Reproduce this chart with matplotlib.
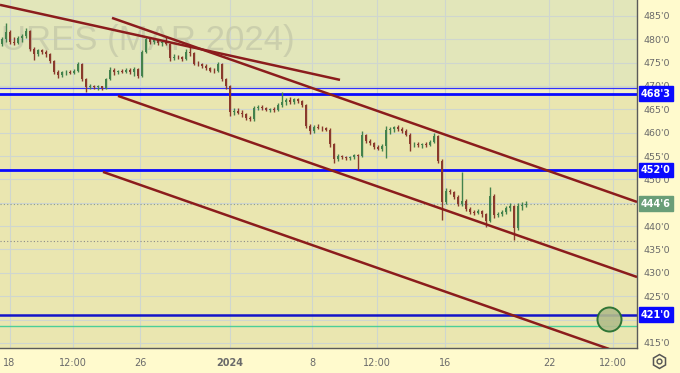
import matplotlib
matplotlib.use("Agg")
import matplotlib.pyplot as plt
from matplotlib.ticker import FixedLocator, FuncFormatter
from matplotlib.transforms import blended_transform_factory
from matplotlib.lines import Line2D

# ---------------- data ----------------
opens = [479.0,480.0,481.5,479.5,479.3,480.2,480.8,481.8,478.0,476.8,477.6,477.2,476.8,475.3,473.0,472.4,472.9,473.0,472.8,473.3,
         474.6,471.5,469.8,470.0,469.7,469.9,469.5,471.5,473.4,472.9,473.2,473.0,473.5,472.9,473.6,472.2,477.3,480.0,479.4,479.8,
         479.2,479.5,479.0,476.0,476.3,476.1,475.8,477.3,477.0,474.8,474.6,474.3,473.8,473.3,473.1,474.8,471.4,470.0,464.4,464.7,
         464.3,463.9,463.2,462.9,465.3,465.6,465.2,464.9,465.0,464.8,465.9,466.6,467.0,466.5,467.1,466.8,466.0,461.5,460.3,461.3,
         461.1,460.9,460.6,457.6,454.3,455.0,454.7,454.6,454.8,455.2,455.0,459.4,458.2,457.7,457.0,456.6,457.2,460.5,460.8,461.2,
         460.7,460.4,459.6,457.5,457.6,457.3,457.5,457.4,458.0,459.3,454.0,445.2,447.6,447.2,446.2,444.8,445.4,443.6,443.0,442.9,
         443.2,442.5,441.0,446.5,442.3,442.6,443.0,443.9,444.4,439.5,444.2,444.5]
highs = [480.5,483.5,482.0,480.5,480.8,481.2,482.3,482.0,478.3,478.0,478.0,477.6,477.0,475.6,473.5,473.2,473.4,473.5,473.6,475.2,
         475.0,471.8,470.4,470.3,470.2,470.0,471.8,474.0,473.8,473.5,473.6,473.8,473.9,474.0,473.9,477.8,480.6,480.5,480.2,480.0,
         479.9,480.6,479.2,476.8,476.7,476.5,478.0,478.4,477.3,475.3,475.0,474.7,474.1,473.8,475.2,475.0,471.7,470.2,465.2,465.3,
         464.8,464.3,463.6,465.8,466.0,465.9,465.6,465.3,465.4,466.3,468.6,467.5,467.6,467.4,467.5,467.0,466.2,461.8,461.6,461.8,
         461.5,461.3,460.9,457.8,455.4,455.3,455.0,455.0,455.5,455.4,460.3,459.8,458.6,458.0,457.4,457.6,461.4,461.2,461.5,461.6,
         461.2,460.8,459.9,458.0,458.0,457.8,457.9,458.4,459.9,459.6,454.4,448.2,448.0,447.6,446.6,451.5,445.8,444.0,443.5,443.6,
         443.5,442.8,448.4,446.8,443.0,443.4,444.3,445.0,444.6,445.0,445.2,445.3]
lows = [478.5,479.5,479.0,478.8,479.0,479.4,480.3,477.5,475.5,476.5,476.8,476.3,475.0,472.5,471.6,472.0,472.4,472.5,472.6,473.0,
        471.0,468.7,469.3,469.4,469.2,469.1,469.3,471.2,472.4,472.5,472.7,472.8,472.6,472.2,471.6,472.0,477.0,479.0,478.9,478.8,
        478.6,478.8,475.4,475.5,475.8,475.4,475.6,476.5,474.4,474.2,473.9,473.5,473.0,472.8,472.9,471.0,469.4,463.6,463.8,464.0,
        463.4,462.8,462.4,462.6,464.9,464.9,464.6,464.5,464.5,464.6,465.6,466.0,466.2,466.2,466.4,465.6,461.0,459.8,460.0,460.8,
        460.4,460.3,457.0,453.6,454.0,454.3,454.2,454.2,454.3,452.0,454.8,457.8,457.3,456.5,456.2,456.0,454.6,459.8,460.2,460.3,
        460.0,459.2,456.0,457.0,457.0,456.8,457.0,457.2,457.8,453.5,441.3,444.8,446.8,445.8,444.3,444.2,443.2,442.6,442.4,442.5,
        442.0,439.8,440.8,441.8,441.9,442.2,442.6,443.2,437.0,439.2,443.4,444.0]
closes = [480.0,481.5,479.5,479.3,480.2,480.8,481.8,478.0,476.8,477.6,477.2,476.8,475.3,473.0,472.4,472.9,473.0,472.8,473.3,474.6,
          471.5,469.8,470.0,469.7,469.9,469.5,471.5,473.4,472.9,473.2,473.0,473.5,472.9,473.6,472.2,477.3,480.0,479.4,479.8,479.2,
          479.5,479.0,476.0,476.3,476.1,475.8,477.3,477.0,474.8,474.6,474.3,473.8,473.3,473.1,474.8,471.4,470.0,464.4,464.7,464.3,
          463.9,463.2,462.9,465.3,465.6,465.2,464.9,465.0,464.8,465.9,466.6,467.0,466.5,467.1,466.8,466.0,461.5,460.3,461.3,461.1,
          460.9,460.6,457.6,454.3,455.0,454.7,454.6,454.8,455.2,455.0,459.4,458.2,457.7,457.0,456.6,457.2,460.5,460.8,461.2,460.7,
          460.4,459.6,457.5,457.6,457.3,457.5,457.4,458.0,459.3,454.0,445.2,447.6,447.2,446.2,444.8,445.4,443.6,443.0,442.9,443.2,
          442.5,441.0,446.5,442.3,442.6,443.0,443.9,444.4,439.5,444.2,444.5,444.75]

# trend lines: (bar index, price) pairs
trend_x = [[-0.5, 84.5], [27.5, 158.75], [29.0, 158.75], [25.25, 151.75]]
trend_y = [[487.36, 471.3], [484.57, 445.17], [467.87, 429.1], [451.6, 413.7]]

level_thin = 469.6
levels_blue = [468.375, 452.0]
level_navy = 421.0
level_mint = 418.6
last_price = 444.75
low_mark = 436.75

box_vals = [468.375, 452.0, 444.75, 421.0]
box_text = ["468'3", "452'0", "444'6", "421'0"]
box_cols = ["#0a0aff", "#0a0aff", "#6a9e78", "#0a0aff"]

xtick_pos = [1.875, 17.75, 34.5, 57.0, 77.5, 93.75, 110.75, 136.75, 152.75]
xtick_lab = ["18", "12:00", "26", "2024", "8", "12:00", "16", "22", "12:00"]
ytick_vals = [415, 420, 425, 430, 435, 440, 445, 450, 455, 460, 465, 470, 475, 480, 485]
ytick_hidden = [420, 445]   # covered by the price boxes in the reference

watermark = "URES (MAR 2024)"
circle_x, circle_y = 151.75, 420.1

# ---------------- figure ----------------
W, H = 680, 373
fig = plt.figure(figsize=(W / 100, H / 100), dpi=100, facecolor="#fffacd")
ax = fig.add_axes([0, 25 / H, 637 / W, 348 / H])
ax.set_xlim(-0.5, 158.75)
ax.set_ylim(413.9, 488.4)
ax.set_facecolor("#eae6b0")

# background bands
ax.axhspan(level_thin, 500, color="#e2e6ba", zorder=0, lw=0)
ax.axhspan(levels_blue[0], level_thin, color="#f5f0c8", zorder=0, lw=0)

# grid
for v in ytick_vals:
    ax.axhline(v, color="#cfd6cf", lw=0.8, zorder=0.5)
for p in xtick_pos:
    ax.axvline(p, color="#cfd6cf", lw=0.8, zorder=0.5)

# watermark
ax.text(1 / 637, 0.885, watermark, transform=ax.transAxes,
        ha="left", va="center", fontsize=25, family="Liberation Sans",
        color="#c4c8a8", alpha=0.75, zorder=0.8, clip_on=True)

# candles
up_col, dn_col = "#43824c", "#8a3a2c"
xs = list(range(len(closes)))
cols = [up_col if c >= o else dn_col for o, c in zip(opens, closes)]
ax.vlines(xs, lows, highs, colors=cols, lw=1.0, zorder=3)
bottoms = [min(o, c) for o, c in zip(opens, closes)]
heights = [max(abs(c - o), 0.15) for o, c in zip(opens, closes)]
ax.bar(xs, heights, bottom=bottoms, width=0.7, color=cols, lw=0, zorder=3)

# horizontal levels
ax.axhline(level_thin, color="#3030ff", lw=0.9, zorder=2)
for v in levels_blue:
    ax.axhline(v, color="#0a0aff", lw=2.0, zorder=2)
ax.axhline(level_navy, color="#1414c8", lw=1.8, zorder=2)
ax.axhline(level_mint, color="#4ccf98", lw=1.0, zorder=2)
ax.axhline(last_price, color="#8a9a90", lw=0.8, ls=(0, (1, 2)), zorder=2)
ax.axhline(low_mark, color="#8a8a8a", lw=0.8, ls=(0, (1, 2)), zorder=2)

# trend lines
for tx, ty in zip(trend_x, trend_y):
    ax.plot(tx, ty, color="#8b1c1c", lw=1.8, zorder=4, solid_capstyle="butt")

# circle marker
ax.scatter([circle_x], [circle_y], s=300, facecolor="#b2bc8a", edgecolor="#1e6b2a",
           lw=1.4, alpha=0.9, zorder=5)

# axes styling
for s in ["top", "left"]:
    ax.spines[s].set_visible(False)
ax.spines["right"].set_color("#5a5a5a")
ax.spines["bottom"].set_color("#5a5a5a")
ax.spines["right"].set_linewidth(1.0)
ax.spines["bottom"].set_linewidth(1.0)

ax.yaxis.tick_right()
ax.yaxis.set_major_locator(FixedLocator(ytick_vals))
ax.yaxis.set_major_formatter(
    FuncFormatter(lambda v, p: "" if int(round(v)) in ytick_hidden else f"{int(round(v))}'0"))
ax.tick_params(axis="y", length=0, pad=5, labelsize=6.8, labelcolor="#6a6a6a")

ax.xaxis.set_major_locator(FixedLocator(xtick_pos))
ax.set_xticklabels(xtick_lab)
ax.tick_params(axis="x", length=0, pad=7, labelsize=7, labelcolor="#6a6a6a")
for lab in ax.get_xticklabels():
    if lab.get_text() == "2024":
        lab.set_fontweight("bold")

# price boxes on the right axis
tr = blended_transform_factory(ax.transAxes, ax.transData)
for v, t, c in zip(box_vals, box_text, box_cols):
    ax.text(1.0 + 4 / 637, v, t, transform=tr, ha="left", va="center",
            fontsize=7, color="white", fontweight="bold", clip_on=False, zorder=6,
            bbox=dict(boxstyle="square,pad=0.25", fc=c, ec=c))

# settings icon (hexagon with a circle)
gx, gy = 659 / W, 1 - 361 / H
fig.add_artist(Line2D([gx], [gy], marker="h", markersize=10, markerfacecolor="none",
                      markeredgecolor="#555555", markeredgewidth=1.1, transform=fig.transFigure))
fig.add_artist(Line2D([gx], [gy], marker="o", markersize=3.5, markerfacecolor="none",
                      markeredgecolor="#555555", markeredgewidth=1.0, transform=fig.transFigure))

fig.savefig("out.png", dpi=100, facecolor=fig.get_facecolor())
